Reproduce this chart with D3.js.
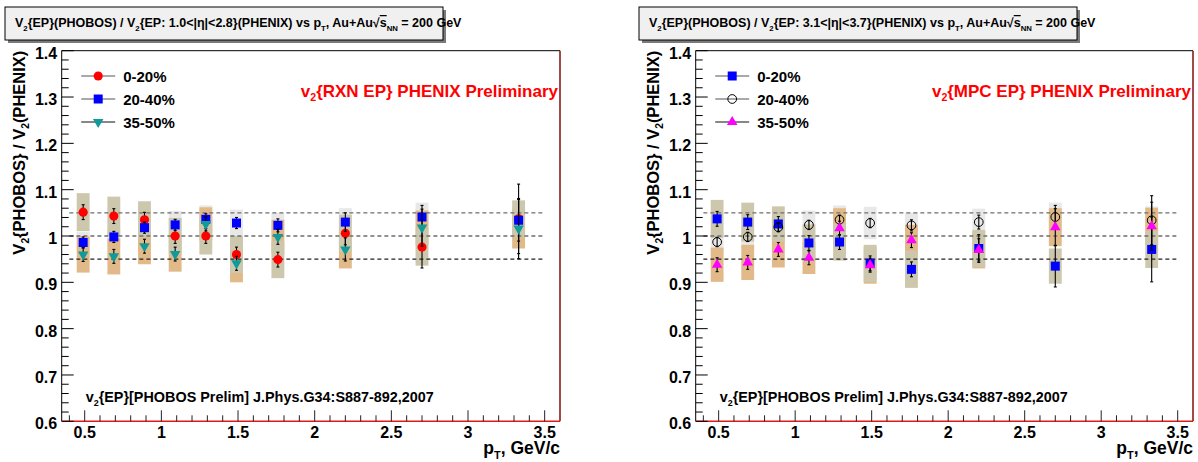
<!DOCTYPE html>
<html><head><meta charset="utf-8">
<script src="https://cdn.jsdelivr.net/npm/d3@7"></script>
<style>
html,body{margin:0;padding:0;background:#fff;}
svg{display:block;font-family:"Liberation Sans",Arial,Helvetica,sans-serif;font-weight:bold;}
</style></head>
<body>
<svg id="c" width="1198" height="462"></svg>
<script>
// ---------- data ----------
const pT = [0.49, 0.69, 0.89, 1.09, 1.29, 1.49, 1.76, 2.2, 2.7, 3.33];
const xTicks = [0.5, 1, 1.5, 2, 2.5, 3, 3.5];
const yTicks = [0.6, 0.7, 0.8, 0.9, 1, 1.1, 1.2, 1.3, 1.4];
const refLines = [1.05, 1.0, 0.95];
const legendLabels = ["0-20%", "20-40%", "35-50%"];

// left panel: RXN EP
const rxn020    = [1.0515, 1.043, 1.035, 1.000, 1.000, 0.960, 0.949, 1.006, 0.976, 1.037];
const rxn020Sys = [0.041, 0.042, 0.040, 0.039, 0.040, 0.040, 0.040, 0.040, 0.040, 0.040];
const rxn020Err = [0.016, 0.016, 0.016, 0.016, 0.016, 0.016, 0.016, 0.025, 0.045, 0.075];
const rxn2040    = [0.986, 0.998, 1.018, 1.024, 1.036, 1.028, 1.023, 1.030, 1.041, 1.034];
const rxn2040Sys = [0.023, 0.020, 0.020, 0.030, 0.030, 0.029, 0.027, 0.030, 0.031, 0.030];
const rxn2040Err = [0.012, 0.012, 0.012, 0.012, 0.012, 0.012, 0.014, 0.020, 0.025, 0.045];
const rxn3550    = [0.960, 0.956, 0.978, 0.961, 1.026, 0.941, 0.998, 0.971, 1.018, 1.016];
const rxn3550Sys = [0.039, 0.039, 0.039, 0.038, 0.036, 0.041, 0.037, 0.041, 0.037, 0.043];
const rxn3550Err = [0.015, 0.015, 0.015, 0.015, 0.015, 0.015, 0.016, 0.025, 0.040, 0.065];

// right panel: MPC EP
const mpc020    = [1.037, 1.030, 1.026, 0.985, 0.987, 0.941, 0.928, 0.973, 0.935, 0.971];
const mpc020Sys = [0.041, 0.042, 0.038, 0.040, 0.040, 0.040, 0.040, 0.040, 0.038, 0.040];
const mpc020Err = [0.016, 0.016, 0.016, 0.016, 0.016, 0.016, 0.016, 0.030, 0.045, 0.070];
const mpc2040    = [0.987, 0.998, 1.019, 1.024, 1.035, 1.028, 1.023, 1.030, 1.041, 1.034];
const mpc2040Sys = [0.025, 0.025, 0.025, 0.031, 0.031, 0.035, 0.027, 0.029, 0.031, 0.030];
const mpc2040Err = [0.010, 0.010, 0.010, 0.010, 0.010, 0.010, 0.012, 0.015, 0.025, 0.053];
const mpc3550    = [0.938, 0.943, 0.971, 0.953, 1.017, 0.937, 0.991, 0.970, 1.019, 1.021];
const mpc3550Sys = [0.037, 0.038, 0.039, 0.035, 0.043, 0.040, 0.033, 0.040, 0.041, 0.040];
const mpc3550Err = [0.015, 0.015, 0.015, 0.015, 0.015, 0.015, 0.016, 0.024, 0.040, 0.052];

// ---------- styles ----------
const boxColors = ["#cdc8ad", "#e8e8e8", "#e2ba89"]; // 0-20, 20-40, 35-50
const boxOrder = [1, 2, 0];
const boxHalfW = 0.042;

const svg = d3.select("#c");

function richText(sel, segs, size) {
  let pending = 0;
  segs.forEach(s => {
    const t = sel.append("tspan").text(s.t).attr("font-size", s.sub ? size * 0.62 : size);
    let dy = pending;
    pending = 0;
    if (s.sub) { dy += size * 0.28; pending = -size * 0.28; }
    if (dy) t.attr("dy", dy);
    if (s.over) t.attr("text-decoration", "overline");
  });
}

function panel(cfg) {
  const x = d3.scaleLinear().domain([0.35, 3.6]).range([cfg.x0, cfg.x1]);
  const y = d3.scaleLinear().domain([0.6, 1.4]).range([421.3, 50.7]);
  const g = svg.append("g");

  // title box
  const tb = cfg.titleBox;
  g.append("rect").attr("x", tb[0] + 3).attr("y", tb[1] + 3).attr("width", tb[2]).attr("height", tb[3]).attr("fill", "#7a7a7a");
  g.append("rect").attr("x", tb[0]).attr("y", tb[1]).attr("width", tb[2]).attr("height", tb[3]).attr("fill", "#f0f0f0").attr("stroke", "#000").attr("stroke-width", 1);
  const tt = g.append("text").attr("x", tb[0] + 10).attr("y", tb[1] + 20).attr("font-size", 12.5);
  richText(tt, cfg.title, 12.5);

  // frame background
  g.append("rect").attr("x", x.range()[0]).attr("y", y(1.4)).attr("width", x.range()[1] - x.range()[0]).attr("height", y(0.6) - y(1.4)).attr("fill", "#fff");

  // systematic boxes
  boxOrder.forEach(si => {
    const s = cfg.series[si];
    g.append("g").selectAll("rect").data(pT).join("rect")
      .attr("x", d => x(d - boxHalfW))
      .attr("width", d => x(d + boxHalfW) - x(d - boxHalfW))
      .attr("y", (d, i) => y(s.v[i] + s.sys[i]))
      .attr("height", (d, i) => y(s.v[i] - s.sys[i]) - y(s.v[i] + s.sys[i]))
      .attr("fill", boxColors[si]);
  });

  // reference dashed lines
  g.append("g").selectAll("line").data(refLines).join("line")
    .attr("x1", x(0.4)).attr("x2", x(3.5))
    .attr("y1", d => y(d)).attr("y2", d => y(d))
    .attr("stroke", d => d === 0.95 ? "#222" : "#6e6e6e")
    .attr("stroke-width", 1.4).attr("stroke-dasharray", "4,3");

  // error bars and markers
  cfg.series.forEach(s => {
    const eg = g.append("g").attr("stroke", "#000").attr("stroke-width", 1.1);
    eg.selectAll("line.v").data(pT).join("line")
      .attr("x1", d => x(d)).attr("x2", d => x(d))
      .attr("y1", (d, i) => y(s.v[i] + s.err[i])).attr("y2", (d, i) => y(s.v[i] - s.err[i]));
    [1, -1].forEach(sg => {
      eg.selectAll(null).data(pT).join("line")
        .attr("x1", d => x(d) - 1.5).attr("x2", d => x(d) + 1.5)
        .attr("y1", (d, i) => y(s.v[i] + sg * s.err[i])).attr("y2", (d, i) => y(s.v[i] + sg * s.err[i]));
    });
    g.append("g").selectAll("path").data(pT).join("path")
      .attr("transform", (d, i) => `translate(${x(d)},${y(s.v[i])})${s.rot ? " rotate(180)" : ""}`)
      .attr("d", d3.symbol().type(s.sym).size(s.size))
      .attr("fill", s.fill).attr("stroke", s.stroke || "none").attr("stroke-width", 1);
  });

  // frame
  const fx0 = x.range()[0], fx1 = x.range()[1], fy0 = y(1.4), fy1 = y(0.6);
  g.append("line").attr("x1", fx0).attr("x2", fx1).attr("y1", fy0).attr("y2", fy0).attr("stroke", "#000");
  g.append("line").attr("x1", fx0).attr("x2", fx0).attr("y1", fy0).attr("y2", fy1).attr("stroke", "#000");
  g.append("line").attr("x1", fx1).attr("x2", fx1).attr("y1", fy0).attr("y2", fy1).attr("stroke", "#8a1c1c").attr("stroke-width", 1.6);
  g.append("line").attr("x1", fx0).attr("x2", fx1).attr("y1", fy1).attr("y2", fy1).attr("stroke", "#e01818").attr("stroke-width", 1.4);

  // y ticks
  const yMinor = d3.range(0.6, 1.4001, 0.02);
  g.append("g").selectAll("line").data(yMinor).join("line")
    .attr("x1", fx0).attr("x2", d => fx0 + (Math.abs(Math.round(d * 10) - d * 10) < 1e-6 ? 12 : 7))
    .attr("y1", d => y(d)).attr("y2", d => y(d)).attr("stroke", "#000");
  g.append("g").selectAll("text").data(yTicks).join("text")
    .attr("x", fx0 - 4.5).attr("y", d => y(d) + 8).attr("text-anchor", "end").attr("font-size", 16)
    .text(d => d === 1 ? "1" : d3.format(".1f")(d));

  // x ticks
  const xMinor = d3.range(0.4, 3.5501, 0.1);
  g.append("g").selectAll("line").data(xMinor).join("line")
    .attr("x1", d => x(d)).attr("x2", d => x(d))
    .attr("y1", fy1).attr("y2", d => fy1 - (Math.abs(Math.round(d * 2) - d * 2) < 1e-6 ? 11 : 6))
    .attr("stroke", "#222");
  g.append("g").selectAll("text").data(xTicks).join("text")
    .attr("x", d => x(d)).attr("y", 437.5).attr("text-anchor", "middle").attr("font-size", 16)
    .text(d => d % 1 === 0 ? String(d) : d3.format(".1f")(d));

  // axis titles
  const xt = g.append("text").attr("x", fx1).attr("y", 454).attr("text-anchor", "end").attr("font-size", 17.5);
  richText(xt, [{t: "p"}, {t: "T", sub: true}, {t: ", GeV/c"}], 17.5);
  const yt = g.append("text").attr("transform", `translate(${fx0 - 37},${fy0}) rotate(-90)`).attr("text-anchor", "end").attr("font-size", 16.5);
  richText(yt, [{t: "V"}, {t: "2", sub: true}, {t: "{PHOBOS} / V"}, {t: "2", sub: true}, {t: "(PHENIX)"}], 16.5);

  // legend
  cfg.series.forEach((s, i) => {
    const ly = 76 + i * 23;
    const lx = fx0 + 36.5;
    g.append("line").attr("x1", lx - 17).attr("x2", lx + 17).attr("y1", ly).attr("y2", ly).attr("stroke", i === 2 ? "#111" : "#555").attr("stroke-width", 1.2);
    g.append("path").attr("transform", `translate(${lx},${ly})${s.rot ? " rotate(180)" : ""}`)
      .attr("d", d3.symbol().type(s.sym).size(s.size)).attr("fill", s.fill).attr("stroke", s.stroke || "none");
    g.append("text").attr("x", fx0 + 61.5).attr("y", ly + 5.5).attr("font-size", 15).text(legendLabels[i]);
  });

  // red label
  const rl = g.append("text").attr("x", fx1 - 2).attr("y", 96.5).attr("text-anchor", "end").attr("font-size", 17).attr("fill", "#ff0000");
  richText(rl, cfg.label, 17);

  // reference text
  const rt = g.append("text").attr("x", fx0 + 24).attr("y", 402).attr("font-size", 14.4);
  richText(rt, [{t: "v"}, {t: "2", sub: true}, {t: "{EP}[PHOBOS Prelim] J.Phys.G34:S887-892,2007"}], 14.4);
}

const circ = d3.symbolCircle, sq = d3.symbolSquare, tri = d3.symbolTriangle;

panel({
  x0: 61.7, x1: 560,
  titleBox: [5, 7, 438, 33],
  title: [{t: "V"}, {t: "2", sub: true}, {t: "{EP}(PHOBOS) / V"}, {t: "2", sub: true}, {t: "{EP: 1.0<|\u03B7|<2.8}(PHENIX) vs p"}, {t: "T", sub: true}, {t: ", Au+Au\u221A"}, {t: "s", over: true}, {t: "NN", sub: true}, {t: " = 200 GeV"}],
  label: [{t: "v"}, {t: "2", sub: true}, {t: "{RXN EP} PHENIX Preliminary"}],
  series: [
    {v: rxn020, sys: rxn020Sys, err: rxn020Err, sym: circ, size: 66, fill: "#ff0000"},
    {v: rxn2040, sys: rxn2040Sys, err: rxn2040Err, sym: sq, size: 81, fill: "#0000ff"},
    {v: rxn3550, sys: rxn3550Sys, err: rxn3550Err, sym: tri, size: 48, fill: "#119a9a", rot: true}
  ]
});

panel({
  x0: 695.7, x1: 1193,
  titleBox: [639, 7, 438, 33],
  title: [{t: "V"}, {t: "2", sub: true}, {t: "{EP}(PHOBOS) / V"}, {t: "2", sub: true}, {t: "{EP: 3.1<|\u03B7|<3.7}(PHENIX) vs p"}, {t: "T", sub: true}, {t: ", Au+Au\u221A"}, {t: "s", over: true}, {t: "NN", sub: true}, {t: " = 200 GeV"}],
  label: [{t: "v"}, {t: "2", sub: true}, {t: "{MPC EP} PHENIX Preliminary"}],
  series: [
    {v: mpc020, sys: mpc020Sys, err: mpc020Err, sym: sq, size: 81, fill: "#0000ff"},
    {v: mpc2040, sys: mpc2040Sys, err: mpc2040Err, sym: circ, size: 60, fill: "none", stroke: "#000"},
    {v: mpc3550, sys: mpc3550Sys, err: mpc3550Err, sym: tri, size: 48, fill: "#ff00ff"}
  ]
});
</script>
</body></html>
